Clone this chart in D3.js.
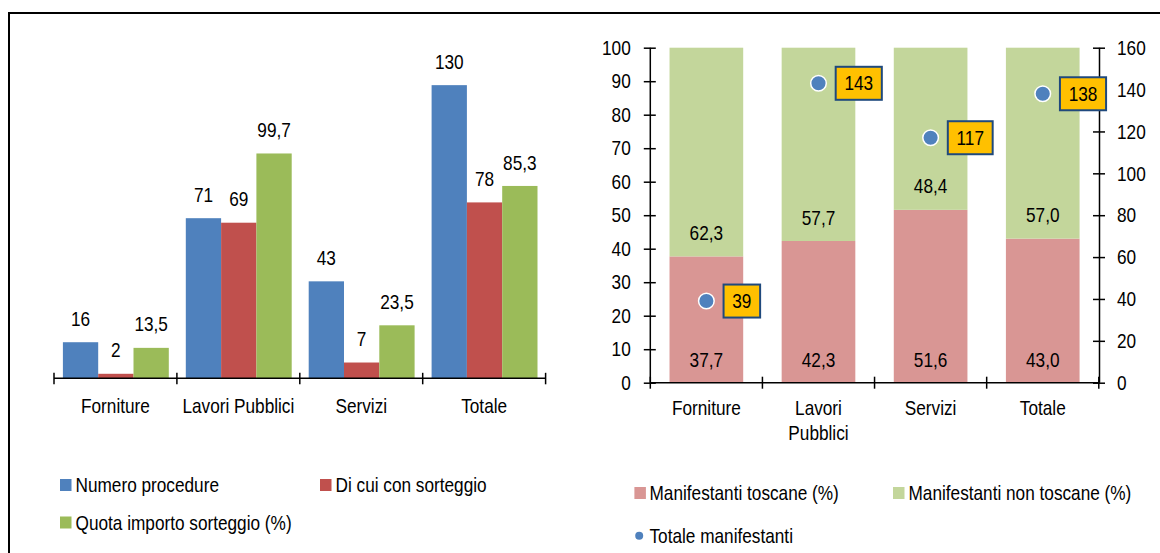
<!DOCTYPE html>
<html>
<head>
  <meta charset="utf-8">
  <title>Procedure e manifestanti</title>
  <script src="https://d3js.org/d3.v7.min.js"></script>
  <style>
    body { margin: 0; background: #fff; }
    svg text { font-family: "Liberation Sans", Arial, sans-serif; font-size: 21px; fill: #000; }
  </style>
</head>
<body>
<div id="chart"></div>
<script>
  // categories and values
  const categories = ["Forniture", "Lavori Pubblici", "Servizi", "Totale"];
  const numeroProcedure = [16, 71, 43, 130];
  const diCuiSorteggio = [2, 69, 7, 78];
  const quotaImporto = [13.5, 99.7, 23.5, 85.3];

  const toscane = [37.7, 42.3, 51.6, 43.0];
  const nonToscane = [62.3, 57.7, 48.4, 57.0];
  const totaleManifestanti = [39, 143, 117, 138];

  const leftTicks = [0, 10, 20, 30, 40, 50, 60, 70, 80, 90, 100];
  const rightTicks = [0, 20, 40, 60, 80, 100, 120, 140, 160];

  const fmt1 = v => d3.format(".1f")(v).replace(".", ",");
  const fmtInt = v => String(v);
  const NARROW = 0.82; // Arial Narrow is Arial squeezed horizontally

  const width = 1160, height = 553;
  const svg = d3.select("#chart").append("svg")
    .attr("width", width).attr("height", height);

  // frame
  svg.append("line").attr("x1", 8).attr("x2", width).attr("y1", 13).attr("y2", 13)
    .attr("stroke", "#000").attr("stroke-width", 2);
  svg.append("line").attr("x1", 9).attr("x2", 9).attr("y1", 12).attr("y2", height)
    .attr("stroke", "#000").attr("stroke-width", 2);

  // ---------- left chart: grouped bars ----------
  const leftSeries = [
    { name: "Numero procedure", values: numeroProcedure, color: "#4F81BD", f: fmtInt },
    { name: "Di cui con sorteggio", values: diCuiSorteggio, color: "#C0504D", f: fmtInt },
    { name: "Quota importo sorteggio (%)", values: quotaImporto, color: "#9BBB59", f: fmt1 }
  ];

  const x0 = d3.scaleBand().domain(categories).range([54, 545.6]).padding(0);
  const x1 = d3.scaleBand().domain(leftSeries.map(s => s.name))
    .range([8.9, x0.bandwidth() - 8.1]).padding(0);
  const yL = d3.scaleLinear().domain([0, 140]).range([378.3, 62.6]);

  const gL = svg.append("g");
  leftSeries.forEach(s => {
    gL.selectAll(null).data(categories).enter().append("rect")
      .attr("x", (c) => x0(c) + x1(s.name))
      .attr("y", (c, i) => yL(s.values[i]))
      .attr("width", x1.bandwidth())
      .attr("height", (c, i) => yL(0) - yL(s.values[i]))
      .attr("fill", s.color);
    gL.selectAll(null).data(categories).enter().append("text")
      .attr("x", (c) => x0(c) + x1(s.name) + x1.bandwidth() / 2)
      .attr("y", (c, i) => yL(s.values[i]) - 23.5)
      .attr("text-anchor", "middle").attr("dominant-baseline", "central")
      .text((c, i) => s.f(s.values[i]));
  });

  // x axis with crossing ticks at band edges
  gL.append("line").attr("x1", x0.range()[0]).attr("x2", x0.range()[1])
    .attr("y1", yL(0)).attr("y2", yL(0)).attr("stroke", "#000").attr("stroke-width", 1.5);
  const edgesL = categories.map(c => x0(c)).concat([x0.range()[1]]);
  gL.selectAll(null).data(edgesL).enter().append("line")
    .attr("x1", d => d).attr("x2", d => d)
    .attr("y1", yL(0) - 5.5).attr("y2", yL(0) + 6)
    .attr("stroke", "#000").attr("stroke-width", 1.5);
  gL.selectAll(null).data(categories).enter().append("text")
    .attr("x", c => x0(c) + x0.bandwidth() / 2)
    .attr("y", 405.7)
    .attr("text-anchor", "middle").attr("dominant-baseline", "central")
    .text(c => c);

  // left legend
  const legL = [
    { s: leftSeries[0], x: 60, y: 485 },
    { s: leftSeries[1], x: 320, y: 485 },
    { s: leftSeries[2], x: 60, y: 522.5 }
  ];
  legL.forEach(l => {
    svg.append("rect").attr("x", l.x).attr("y", l.y - 6).attr("width", 11.5).attr("height", 12)
      .attr("fill", l.s.color);
    svg.append("text").attr("x", l.x + 15.5).attr("y", l.y)
      .attr("dominant-baseline", "central").text(l.s.name);
  });

  // ---------- right chart: stacked 100% bars + dots ----------
  const xR = d3.scaleBand().domain(categories).range([650.3, 1098.8])
    .paddingInner(0.343).paddingOuter(0.1715);
  const xEdge = d3.scaleBand().domain(categories).range([650.3, 1098.8]).padding(0);
  const yR = d3.scaleLinear().domain([0, 100]).range([382.7, 47.7]);
  const yR2 = d3.scaleLinear().domain([0, 160]).range([382.7, 47.7]);

  const gR = svg.append("g");
  gR.selectAll(null).data(categories).enter().append("rect")
    .attr("x", c => xR(c)).attr("width", xR.bandwidth())
    .attr("y", (c, i) => yR(toscane[i]))
    .attr("height", (c, i) => yR(0) - yR(toscane[i]))
    .attr("fill", "#D99694");
  gR.selectAll(null).data(categories).enter().append("rect")
    .attr("x", c => xR(c)).attr("width", xR.bandwidth())
    .attr("y", (c, i) => yR(toscane[i] + nonToscane[i]))
    .attr("height", (c, i) => yR(toscane[i]) - yR(toscane[i] + nonToscane[i]))
    .attr("fill", "#C3D69B");

  gR.selectAll(null).data(categories).enter().append("text")
    .attr("x", c => xR(c) + xR.bandwidth() / 2)
    .attr("y", yR(0) - 23)
    .attr("text-anchor", "middle").attr("dominant-baseline", "central")
    .text((c, i) => fmt1(toscane[i]));
  gR.selectAll(null).data(categories).enter().append("text")
    .attr("x", c => xR(c) + xR.bandwidth() / 2)
    .attr("y", (c, i) => yR(toscane[i]) - 23.5)
    .attr("text-anchor", "middle").attr("dominant-baseline", "central")
    .text((c, i) => fmt1(nonToscane[i]));

  // left y axis
  const axL = gR.append("g").attr("transform", "translate(650.3,0)")
    .call(d3.axisLeft(yR).tickValues(leftTicks).tickSize(6).tickPadding(13.6));
  axL.attr("font-family", null).attr("font-size", null);
  axL.select(".domain").remove();
  axL.append("line").attr("y1", yR(0)).attr("y2", yR(100)).attr("stroke", "#000").attr("stroke-width", 1.5);
  axL.selectAll(".tick line").attr("x1", -6.5).attr("x2", 5.5).attr("stroke-width", 1.5);

  // right y axis
  const axR = gR.append("g").attr("transform", "translate(1099.5,0)")
    .call(d3.axisRight(yR2).tickValues(rightTicks).tickSize(6).tickPadding(11.5));
  axR.attr("font-family", null).attr("font-size", null);
  axR.select(".domain").remove();
  axR.append("line").attr("y1", yR2(0)).attr("y2", yR2(160)).attr("stroke", "#000").attr("stroke-width", 1.5);
  axR.selectAll(".tick line").attr("x1", -6.5).attr("x2", 5.5).attr("stroke-width", 1.5);

  // bottom x axis
  gR.append("line").attr("x1", 650.3).attr("x2", 1099.5)
    .attr("y1", yR(0)).attr("y2", yR(0)).attr("stroke", "#000").attr("stroke-width", 1.5);
  const edgesR = categories.map(c => xEdge(c)).concat([xEdge.range()[1]]);
  gR.selectAll(null).data(edgesR).enter().append("line")
    .attr("x1", d => d).attr("x2", d => d)
    .attr("y1", yR(0) - 6).attr("y2", yR(0) + 6)
    .attr("stroke", "#000").attr("stroke-width", 1.5);
  categories.forEach(c => {
    const words = c === "Lavori Pubblici" ? ["Lavori", "Pubblici"] : [c];
    words.forEach((w, k) => {
      gR.append("text")
        .attr("x", xEdge(c) + xEdge.bandwidth() / 2)
        .attr("y", 408.3 + k * 25)
        .attr("text-anchor", "middle").attr("dominant-baseline", "central")
        .text(w);
    });
  });

  // dots with boxed labels
  gR.selectAll(null).data(categories).enter().append("circle")
    .attr("cx", c => xR(c) + xR.bandwidth() / 2)
    .attr("cy", (c, i) => yR2(totaleManifestanti[i]))
    .attr("r", 7.8)
    .attr("fill", "#4F81BD").attr("stroke", "#fff").attr("stroke-width", 1.5);
  categories.forEach((c, i) => {
    const cx = xR(c) + xR.bandwidth() / 2 + 17.2;
    const cy = yR2(totaleManifestanti[i]);
    const box = gR.append("rect").attr("fill", "#FFC000").attr("stroke", "#1F497D").attr("stroke-width", 2);
    const t = gR.append("text").attr("y", cy).attr("dominant-baseline", "central")
      .attr("text-anchor", "middle").text(totaleManifestanti[i]);
    const w = t.node().getComputedTextLength() * NARROW + 17.4;
    box.attr("x", cx).attr("y", cy - 16.5).attr("width", w).attr("height", 33);
    t.attr("x", cx + w / 2);
  });

  // right legend
  svg.append("rect").attr("x", 634.4).attr("y", 487).attr("width", 11.5).attr("height", 12).attr("fill", "#D99694");
  svg.append("text").attr("x", 649.5).attr("y", 493).attr("dominant-baseline", "central")
    .text("Manifestanti toscane (%)");
  svg.append("rect").attr("x", 893).attr("y", 487).attr("width", 11.5).attr("height", 12).attr("fill", "#C3D69B");
  svg.append("text").attr("x", 908.5).attr("y", 493).attr("dominant-baseline", "central")
    .text("Manifestanti non toscane (%)");
  svg.append("circle").attr("cx", 639.2).attr("cy", 535.7).attr("r", 4).attr("fill", "#4F81BD");
  svg.append("text").attr("x", 649.5).attr("y", 535.7).attr("dominant-baseline", "central")
    .text("Totale manifestanti");

  // squeeze every label to a narrow face (scale around its own anchor point)
  svg.selectAll("text").each(function () {
    const t = d3.select(this);
    const x = +t.attr("x") || 0, y = +t.attr("y") || 0;
    t.attr("x", 0).attr("y", 0)
      .attr("transform", `translate(${x},${y}) scale(${NARROW},1)`);
  });
</script>
</body>
</html>
